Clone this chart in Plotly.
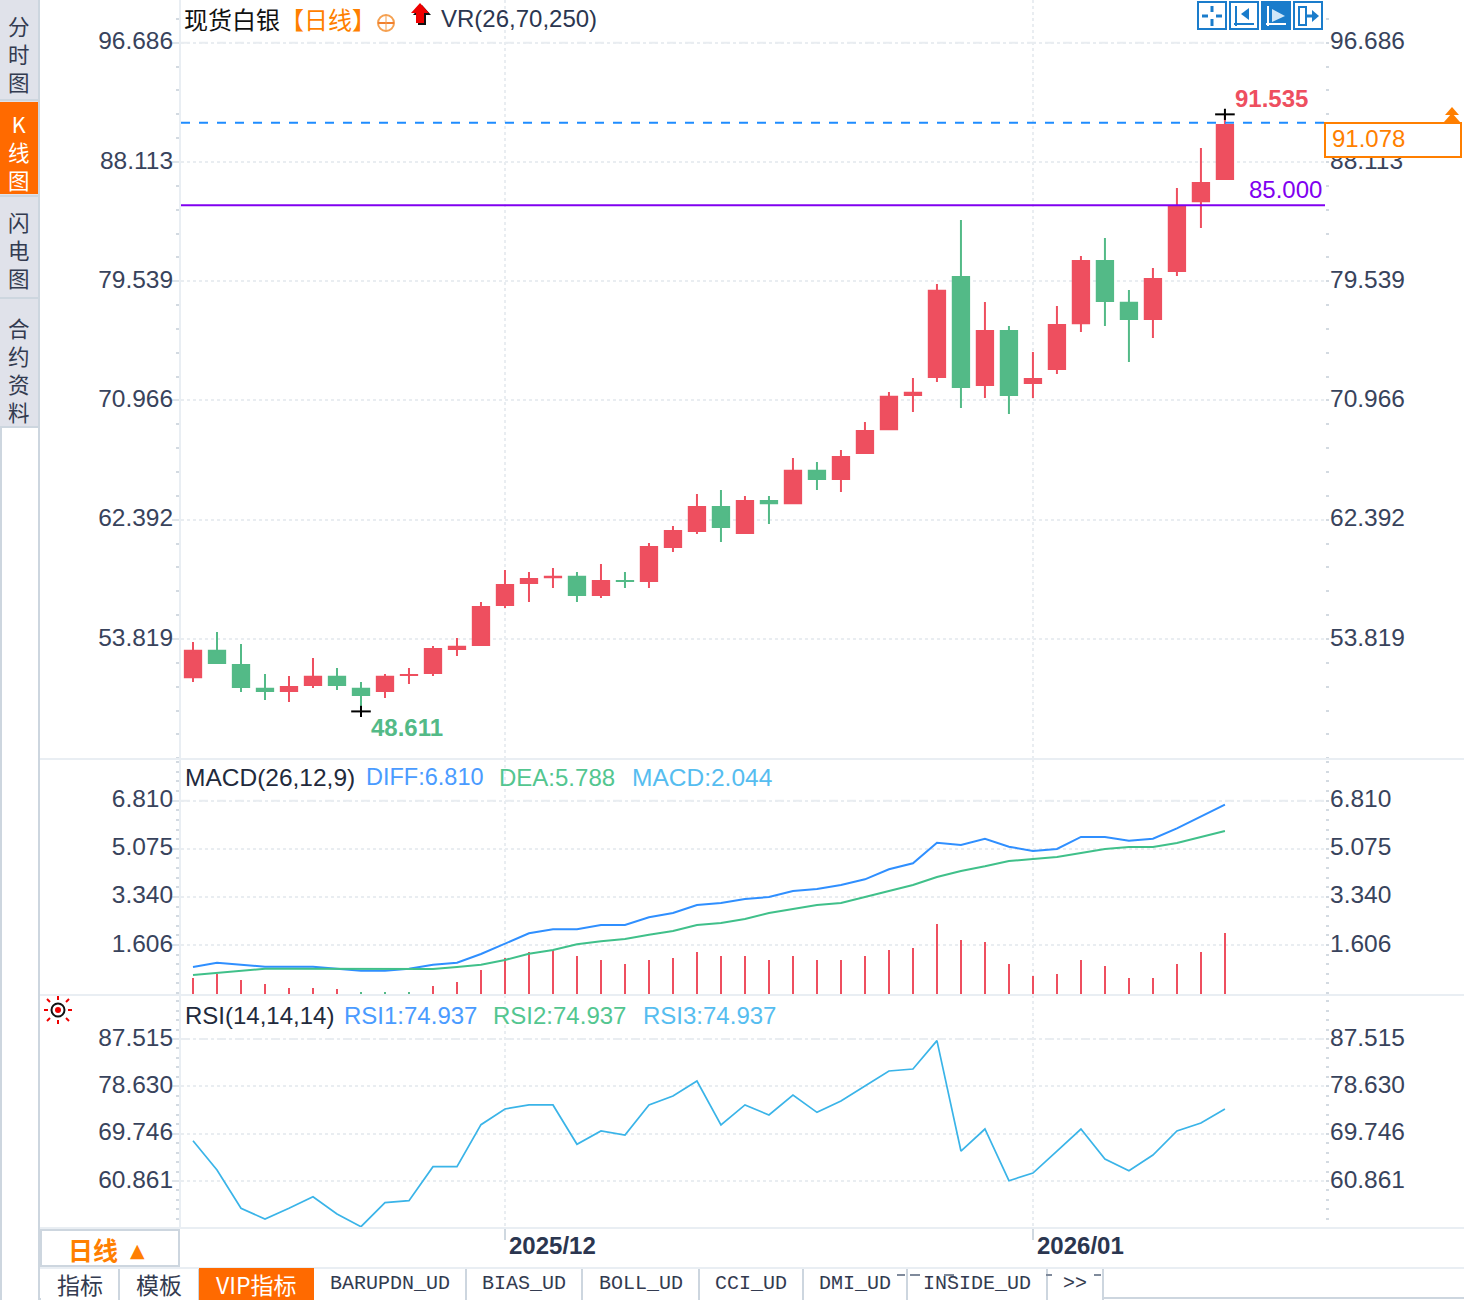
import plotly.graph_objects as go
from plotly.subplots import make_subplots

W, H = 1464, 1300

# daily bars
dates = ["2025/11/12", "2025/11/13", "2025/11/14", "2025/11/17", "2025/11/18", "2025/11/19", "2025/11/20", "2025/11/21",
         "2025/11/24", "2025/11/25", "2025/11/26", "2025/11/27", "2025/11/28", "2025/12/01", "2025/12/02", "2025/12/03",
         "2025/12/04", "2025/12/05", "2025/12/08", "2025/12/09", "2025/12/10", "2025/12/11", "2025/12/12", "2025/12/15",
         "2025/12/16", "2025/12/17", "2025/12/18", "2025/12/19", "2025/12/22", "2025/12/23", "2025/12/24", "2025/12/26",
         "2025/12/29", "2025/12/30", "2025/12/31", "2026/01/01", "2026/01/02", "2026/01/05", "2026/01/06", "2026/01/07",
         "2026/01/08", "2026/01/09", "2026/01/12", "2026/01/13"]
open_ = [51.01, 53.03, 52.02, 50.30, 50.01, 50.44, 51.16, 50.30, 50.01, 51.16,
         51.30, 53.03, 53.32, 56.19, 57.77, 58.20, 58.35, 56.91, 58.06, 57.92,
         60.36, 61.51, 63.38, 61.37, 63.81, 63.52, 65.97, 65.25, 67.12, 68.84,
         71.29, 72.58, 79.91, 72.01, 76.03, 72.15, 73.16, 76.46, 81.06, 78.05,
         76.75, 80.20, 85.23, 86.82]
high = [53.60, 54.32, 53.46, 51.30, 51.16, 52.45, 51.73, 50.73, 51.30, 51.73,
        53.32, 53.89, 56.48, 58.78, 58.64, 58.92, 58.64, 59.21, 58.64, 60.72,
        61.94, 64.24, 64.53, 64.10, 64.10, 66.83, 66.54, 67.41, 69.42, 71.58,
        72.58, 79.34, 83.94, 78.05, 76.32, 74.45, 77.76, 81.35, 82.65, 78.91,
        80.49, 86.24, 89.12, 91.535]
low = [50.73, 52.02, 50.01, 49.43, 49.29, 50.30, 50.15, 48.611, 49.58, 50.58,
       51.16, 52.60, 53.32, 56.05, 56.48, 57.49, 56.48, 56.77, 57.49, 57.49,
       60.07, 61.37, 60.79, 61.37, 62.09, 63.52, 64.53, 64.39, 67.12, 68.84,
       70.14, 72.29, 70.43, 71.14, 69.99, 71.14, 72.87, 75.89, 76.32, 73.73,
       75.46, 79.91, 83.37, 86.82]
close = [53.03, 52.02, 50.30, 50.01, 50.44, 51.16, 50.44, 49.72, 51.16, 51.30,
         53.17, 53.32, 56.19, 57.77, 58.20, 58.35, 56.91, 58.06, 57.92, 60.50,
         61.65, 63.38, 61.80, 63.81, 63.52, 65.97, 65.25, 66.97, 68.84, 71.29,
         71.58, 78.91, 71.86, 76.03, 71.29, 72.58, 76.46, 81.06, 78.05, 76.75,
         79.77, 85.02, 86.67, 90.84]
last_price_line = 90.935
resistance = 85.0

# MACD panel
diff = [0.813, 0.968, 0.896, 0.824, 0.824, 0.824, 0.752, 0.680, 0.680, 0.752,
        0.896, 0.968, 1.282, 1.653, 2.028, 2.172, 2.172, 2.327, 2.327, 2.605,
        2.760, 3.048, 3.121, 3.265, 3.337, 3.553, 3.625, 3.770, 3.975, 4.336,
        4.552, 5.295, 5.212, 5.439, 5.151, 4.996, 5.068, 5.501, 5.501, 5.368,
        5.439, 5.814, 6.233, 6.665]
dea = [0.524, 0.607, 0.679, 0.751, 0.751, 0.751, 0.740, 0.740, 0.740, 0.740,
       0.740, 0.813, 0.896, 1.066, 1.293, 1.426, 1.632, 1.740, 1.823, 1.978,
       2.111, 2.327, 2.399, 2.544, 2.760, 2.904, 3.048, 3.121, 3.337, 3.553,
       3.770, 4.058, 4.275, 4.444, 4.635, 4.707, 4.780, 4.924, 5.068, 5.140,
       5.140, 5.284, 5.501, 5.717]
macd = [0.415, 0.559, 0.343, 0.198, 0.054, 0.054, 0.020, -0.090, -0.090, -0.090,
        0.126, 0.270, 0.703, 1.136, 1.352, 1.424, 1.208, 1.064, 0.920, 1.064,
        1.136, 1.352, 1.208, 1.208, 1.064, 1.208, 1.064, 1.064, 1.208, 1.424,
        1.496, 2.362, 1.785, 1.713, 0.920, 0.487, 0.559, 1.064, 0.847, 0.415,
        0.415, 0.920, 1.352, 2.044]

# RSI panel
rsi = [68.43, 62.93, 55.74, 53.73, 55.74, 57.91, 54.67, 52.29, 56.79, 57.16,
       63.55, 63.55, 71.43, 74.38, 75.13, 75.13, 67.75, 70.25, 69.50, 75.13,
       76.81, 79.63, 71.37, 75.13, 73.25, 77.00, 73.75, 75.88, 78.69, 81.51,
       81.88, 87.20, 66.49, 70.62, 60.92, 62.36, 66.49, 70.62, 64.99, 62.80,
       65.74, 70.25, 71.75, 74.38]

price_ticks = [96.686, 88.113, 79.539, 70.966, 62.392, 53.819]
macd_ticks = [6.810, 5.075, 3.340, 1.606]
rsi_ticks = [87.515, 78.630, 69.746, 60.861]
month_ticks = ["2025/12/01", "2026/01/01"]
month_labels = ["2025/12", "2026/01"]

RED = "#ee4f5f"
GREEN = "#53ba87"
GRID = "#e9edf1"
AXIS = "#e9eef3"
BORDER = "#cdd6df"
TICK = "#38435c"
ORANGE = "#ff7f00"
TAB_ORANGE = "#ff6a00"
ICON = "#1a7ccb"
SANS = "Liberation Sans"
CJK = "Noto Sans CJK SC"
MONO = "Liberation Mono"


# helpers: screen pixels to paper coordinates
def px(x):
    return x / W


def py(y):
    return 1 - y / H


shapes = []
notes = []


def rect(x0, y0, x1, y1, fill=None, line=None, w=0):
    shapes.append(dict(type="rect", xref="paper", yref="paper", x0=px(x0), x1=px(x1), y0=py(y0), y1=py(y1),
                       fillcolor=fill, line=dict(color=line, width=w), layer="above"))


def seg(x0, y0, x1, y1, color, w=2, dash=None):
    shapes.append(dict(type="line", xref="paper", yref="paper", x0=px(x0), x1=px(x1), y0=py(y0), y1=py(y1),
                       line=dict(color=color, width=w, dash=dash), layer="above"))


def poly(points, fill):
    d = "M" + " L".join(f"{px(a):.5f},{py(b):.5f}" for a, b in points) + " Z"
    shapes.append(dict(type="path", xref="paper", yref="paper", path=d, fillcolor=fill,
                       line=dict(width=0), layer="above"))


def circle(cx, cy, r, fill=None, line=None, w=0):
    shapes.append(dict(type="circle", xref="paper", yref="paper", x0=px(cx - r), x1=px(cx + r), y0=py(cy + r), y1=py(cy - r),
                       fillcolor=fill, line=dict(color=line, width=w), layer="above"))


def label(x, y, s, color, size=24, anchor="left", font=SANS):
    notes.append(dict(xref="paper", yref="paper", x=px(x), y=py(y), text=s, showarrow=False, xanchor=anchor, yanchor="middle",
                      borderpad=0, font=dict(family=font, size=size, color=color)))


fig = make_subplots(rows=3, cols=1, shared_xaxes=True, specs=[[{"secondary_y": True}]] * 3)

# the 2px outline adds a pixel on each side of a body, take it back
stroke = 0.065
body_open = [o - stroke if c < o else o + stroke for o, c in zip(open_, close)]
body_close = [c + stroke if c < o else c - stroke for o, c in zip(open_, close)]
fig.add_trace(go.Candlestick(x=dates, open=body_open, high=high, low=low, close=body_close, whiskerwidth=0,
                             increasing=dict(line=dict(color=RED, width=2), fillcolor=RED),
                             decreasing=dict(line=dict(color=GREEN, width=2), fillcolor=GREEN)),
              row=1, col=1)
# little crosses on the highest and lowest bar
for i, y_mark in ((high.index(max(high)), max(high)), (low.index(min(low)), min(low))):
    fig.add_trace(go.Scatter(x=[dates[i]], y=[y_mark], mode="markers",
                             marker=dict(symbol="line-ew", size=14, line=dict(color="black", width=2))), row=1, col=1)
    fig.add_trace(go.Scatter(x=[dates[i]], y=[y_mark], mode="markers",
                             marker=dict(symbol="line-ns", size=8, line=dict(color="black", width=2))), row=1, col=1)

macd_floor = -0.161
fig.add_trace(go.Bar(x=dates, y=[v - macd_floor for v in macd], base=macd_floor, width=0.085,
                     marker=dict(color=[RED if v >= 0 else GREEN for v in macd], line=dict(width=0))), row=2, col=1)
fig.add_trace(go.Scatter(x=dates, y=diff, mode="lines", line=dict(color="#2f8fff", width=2)), row=2, col=1)
fig.add_trace(go.Scatter(x=dates, y=dea, mode="lines", line=dict(color="#40c08a", width=2)), row=2, col=1)

fig.add_trace(go.Scatter(x=dates, y=rsi, mode="lines", line=dict(color="#3ab4e8", width=1.7)), row=3, col=1)

# invisible copies so the right hand axes get drawn
for row, ticks in ((1, price_ticks), (2, macd_ticks), (3, rsi_ticks)):
    fig.add_trace(go.Scatter(x=dates[:len(ticks)], y=ticks, mode="lines", line=dict(width=0), opacity=0),
                  row=row, col=1, secondary_y=True)

panels = [("", "2", price_ticks, (0, 759), (99.756, 45.19), 1.7147),
          ("3", "4", macd_ticks, (759, 995), (8.313, -0.197), 0.34693),
          ("5", "6", rsi_ticks, (995, 1228), (95.77, 52.04), 1.7769)]
for left, right, ticks, (top, bottom), (vmax, vmin), minor_step in panels:
    domain = [py(bottom), py(top)]
    common = dict(domain=domain, range=[vmin, vmax], tickmode="array", tickvals=ticks,
                  ticktext=[f"{t:.3f}" for t in ticks], tickfont=dict(family=SANS, size=24.5, color=TICK),
                  zeroline=False, ticklabelshift=-2,
                  minor=dict(ticks="outside", ticklen=3, tickwidth=2, tickcolor="#d3dae1", tickmode="linear",
                             tick0=ticks[-1], dtick=minor_step, showgrid=False))
    fig.update_layout({
        "yaxis" + left: dict(common, showgrid=True, gridcolor=GRID, gridwidth=2, griddash="dot", ticks="outside", ticklen=7,
                             tickwidth=2, tickcolor="#dfe5ea", showline=True, linecolor=AXIS, linewidth=2,
                             ticklabelstandoff=-6),
        "yaxis" + right: dict(common, showgrid=False, ticks="", side="right", overlaying="y" + left, showline=False,
                              ticklabelstandoff=4),
    })
    # top grid line is dashed in the original
    shapes.append(dict(type="line", xref="paper", yref="y" + left, x0=px(181), x1=px(1325), y0=ticks[0], y1=ticks[0],
                       line=dict(color="#ffffff", width=2), layer="below"))
    shapes.append(dict(type="line", xref="paper", yref="y" + left, x0=px(181), x1=px(1325), y0=ticks[0], y1=ticks[0],
                       line=dict(color=GRID, width=2, dash="dash"), layer="below"))

for name in ("xaxis", "xaxis2", "xaxis3"):
    fig.update_layout({name: dict(type="category", domain=[px(181), px(1325)], range=[-0.5, 47.17],
                                  tickmode="array", tickvals=month_ticks, showticklabels=False,
                                  showgrid=True, gridcolor=GRID, gridwidth=2, griddash="dot",
                                  rangeslider=dict(visible=False), showline=False,
                                  ticks="outside" if name == "xaxis3" else "", ticklen=11, tickwidth=2, tickcolor="#cfd8e0")})

# month labels sit to the right of their tick
for m, text in zip(month_ticks, month_labels):
    notes.append(dict(xref="x3", yref="paper", x=m, y=py(1245), text=f"<b>{text}</b>", showarrow=False, xanchor="left",
                      yanchor="middle", xshift=3, borderpad=0, font=dict(family=SANS, size=24, color="#2b3650")))

# price lines
for level, color, dash in ((last_price_line, "#1e8cff", "dash"), (resistance, "#8000f0", None)):
    shapes.append(dict(type="line", xref="paper", yref="y", x0=px(181), x1=px(1325), y0=level, y1=level,
                       line=dict(color=color, width=2, dash=dash), layer="above"))

# panel separators
for y in (759, 995, 1228):
    seg(40, y, W, y, AXIS, 2)

# left side buttons
rect(0, 0, 38, 428, fill="#e0e2ea")
rect(0, 102, 38, 194, fill=TAB_ORANGE)
seg(0, 100, 38, 100, BORDER, 2)
seg(0, 196, 38, 196, BORDER, 2)
seg(0, 298, 38, 298, BORDER, 2)
seg(0, 427, 38, 427, BORDER, 2)
seg(39, 0, 39, H, BORDER, 2)
seg(1, 428, 1, H, BORDER, 2)
for chars, y_mid, color in (("分时图", 54, "#333b50"), ("K线图", 152, "#ffffff"),
                            ("闪电图", 250, "#333b50"), ("合约资料", 369, "#333b50")):
    label(19, y_mid, "<br>".join(chars), color, 21.5, "center", CJK)

# header text
label(183, 19, "现货白银", "#111111", 24, "left", CJK)
label(279, 19, "【日线】", ORANGE, 24, "left", CJK)
circle(386, 23, 8, line="#f5a050", w=2)
seg(378, 23, 394, 23, "#f08030", 2)
seg(386, 15, 386, 31, "#f5a050", 1)
arrow = [(420, 3), (429, 13), (424, 13), (424, 23), (416, 23), (416, 13), (411, 13)]
poly([(a + 2, b + 2) for a, b in arrow], "#111111")
poly(arrow, "#ee0000")
label(440, 19, "VR(26,70,250)", "#2b3650")

# panel titles
label(184, 777, "MACD(26,12,9)", "#222a3c", 24.5)
label(365, 777, "DIFF:6.810", "#4a9bff", 23.5)
label(498, 777, "DEA:5.788", "#53c690")
label(631, 777, "MACD:2.044", "#56bdf0", 24.5)
label(184, 1015, "RSI(14,14,14)", "#222a3c")
label(343, 1015, "RSI1:74.937", "#4a9bff")
label(492, 1015, "RSI2:74.937", "#53c690")
label(642, 1015, "RSI3:74.937", "#56bdf0")

# price marks
label(1234, 99, "<b>91.535</b>", RED)
label(1248, 189, "85.000", "#8000f0")
label(370, 727, "<b>48.611</b>", GREEN)

# last price box with the arrows above it
rect(1325, 123, 1461, 157, fill="#ffffff", line=ORANGE, w=2)
label(1331, 139, "91.078", ORANGE)
poly([(1452, 107), (1459, 115), (1445, 115)], ORANGE)
poly([(1452, 113), (1460, 122), (1444, 122)], ORANGE)

# top right tool buttons
for x0 in (1198, 1230, 1294):
    rect(x0, 2, x0 + 28, 29, fill="#ffffff", line=ICON, w=2)
rect(1262, 2, 1290, 29, fill=ICON, line=ICON, w=2)
for a, b, c, d in ((1212, 6, 1212, 12), (1212, 19, 1212, 26), (1202, 16, 1208, 16), (1216, 16, 1222, 16)):
    seg(a, b, c, d, ICON, 3)
seg(1236, 6, 1236, 26, ICON, 2)
seg(1234, 24, 1254, 24, ICON, 2)
poly([(1241, 14), (1249, 8), (1249, 20)], ICON)
seg(1268, 6, 1268, 26, "#ffffff", 2)
seg(1266, 24, 1286, 24, "#ffffff", 2)
poly([(1272, 9), (1285, 16), (1272, 22)], "#cfe6f8")
rect(1299, 7, 1306, 25, fill="#ffffff", line=ICON, w=2)
seg(1306, 16, 1314, 16, ICON, 3)
poly([(1312, 10), (1319, 16), (1312, 22)], ICON)

# sun icon beside the RSI panel
circle(58, 1010, 6.5, line="#111111", w=2)
circle(58, 1010, 3, fill="#ee0000")
for a, b, c, d in ((58, 996, 58, 1000), (58, 1020, 58, 1024), (44, 1010, 48, 1010), (68, 1010, 72, 1010),
                   (47, 999, 50, 1002), (66, 1018, 69, 1021), (47, 1021, 50, 1018), (66, 1002, 69, 999)):
    seg(a, b, c, d, "#ee0000", 2)

# period box
rect(41, 1230, 179, 1266, fill="#ffffff", line=BORDER, w=2)
label(67, 1249, "<b>日线</b>", ORANGE, 25, "left", CJK)
label(129, 1250, "▲", ORANGE, 19, "left", "DejaVu Sans")

# bottom tab row
seg(40, 1268, W, 1268, AXIS, 2)
tabs = [("指标", 40, 119, CJK), ("模板", 119, 199, CJK), ("VIP指标", 199, 314, CJK), ("BARUPDN_UD", 314, 466, MONO),
        ("BIAS_UD", 466, 582, MONO), ("BOLL_UD", 582, 699, MONO), ("CCI_UD", 699, 803, MONO), ("DMI_UD", 803, 907, MONO),
        ("INSIDE_UD", 907, 1047, MONO), (">>", 1047, 1103, MONO)]
for name, x0, x1, font in tabs:
    if name == "VIP指标":
        rect(x0, 1268, x1, H, fill=TAB_ORANGE)
    else:
        seg(x1, 1269, x1, H, BORDER, 2)
    size = 23 if font == CJK else 20
    label((x0 + x1) / 2, 1283.5, name, "#ffffff" if name == "VIP指标" else "#333b50", size, "center", font)
seg(1103, 1298, W, 1298, BORDER, 2)
seg(40, 1298, 40, H, BORDER, 2)
# stray dashes left above the last tabs
for x0, x1 in ((897, 905), (910, 920), (944, 954), (1046, 1052), (1094, 1101)):
    seg(x0, 1275, x1, 1275, "#7f8a9b", 2)

fig.update_layout(width=W, height=H, margin=dict(l=0, r=0, t=0, b=0), showlegend=False,
                  paper_bgcolor="white", plot_bgcolor="white", bargap=0, boxgap=0.15, boxgroupgap=0.2,
                  hovermode=False, dragmode=False, shapes=shapes, annotations=notes)

fig.write_html("out.html", config=dict(displayModeBar=False),
               post_script="document.body.style.margin='0';")
